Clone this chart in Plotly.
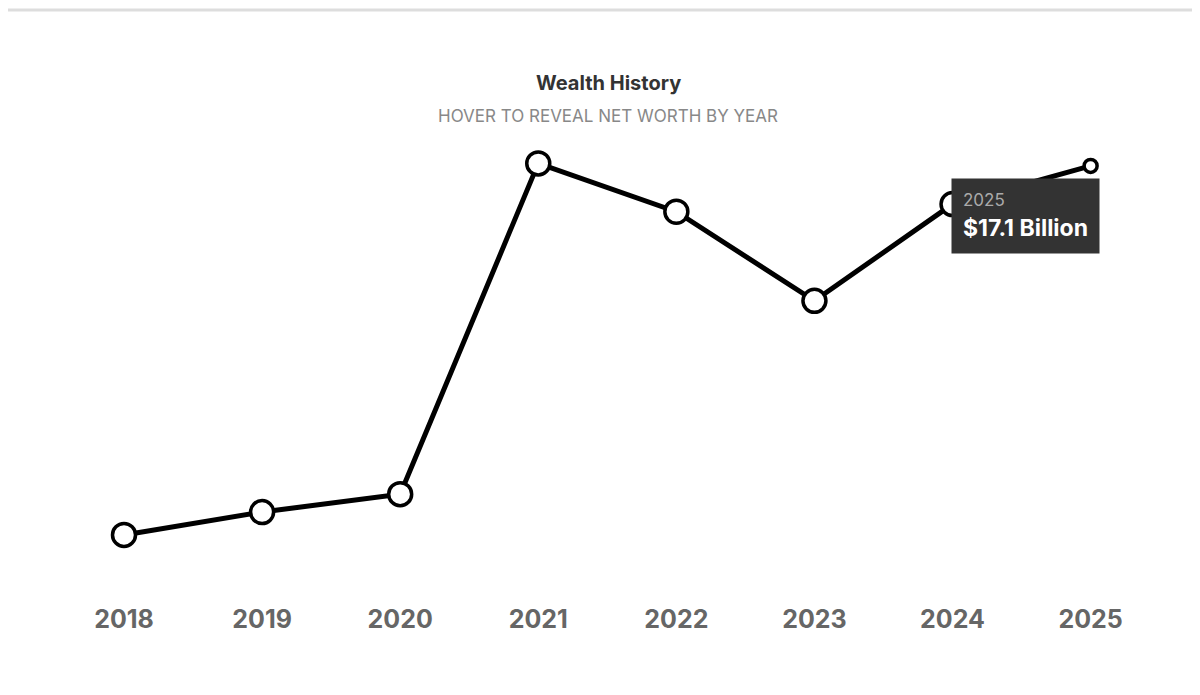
import plotly.graph_objects as go

years = ["2018", "2019", "2020", "2021", "2022", "2023", "2024", "2025"]
net_worth = [2.6, 3.5, 4.2, 17.2, 15.3, 11.8, 15.6, 17.1]

fig = go.Figure(go.Scatter(
    x=list(range(len(years))), y=net_worth, mode="lines+markers",
    line=dict(color="black", width=5),
    marker=dict(size=[23]*7 + [13], color="white", opacity=1,
                line=dict(color="black", width=3.5)),
    hoverinfo="skip",
))
fig.update_layout(
    width=1200, height=695, margin=dict(l=0, r=0, t=133, b=107),
    paper_bgcolor="white", plot_bgcolor="white", showlegend=False,
    xaxis=dict(range=[-0.84, 7.85], tickvals=list(range(len(years))),
               ticktext=[f"<b>{y}</b>" for y in years],
               showgrid=False, zeroline=False, showline=False, ticks="",
               tickfont=dict(family="Inter", size=25, color="#666"), ticklabelstandoff=6),
    yaxis=dict(range=[0.2, 18.08], visible=False),
    annotations=[
        dict(text="<b>Wealth History</b>", x=0.5, y=1.127, xref="paper", yref="paper",
             yanchor="middle", showarrow=False, font=dict(family="Inter", size=20, color="#333")),
        dict(text="HOVER TO REVEAL NET WORTH BY YEAR", x=0.5, y=1.055, xref="paper", yref="paper",
             yanchor="middle", showarrow=False, font=dict(family="Inter", size=17, color="#888")),
        dict(text="<span style='font-size:17px;color:#aaa'>2025</span><br><b>$17.1 Billion</b>",
             x=6, y=net_worth[7], xref="x", yref="y", xanchor="left", yanchor="top",
             xshift=-2, yshift=-12, align="left", showarrow=False,
             bgcolor="#333", borderpad=11, font=dict(family="Inter", size=23, color="white")),
    ],
    shapes=[dict(type="line", xref="paper", yref="paper", x0=0, x1=1, y0=1.288, y1=1.288,
                 line=dict(color="#ddd", width=3))],
)
fig.write_html("out.html")
